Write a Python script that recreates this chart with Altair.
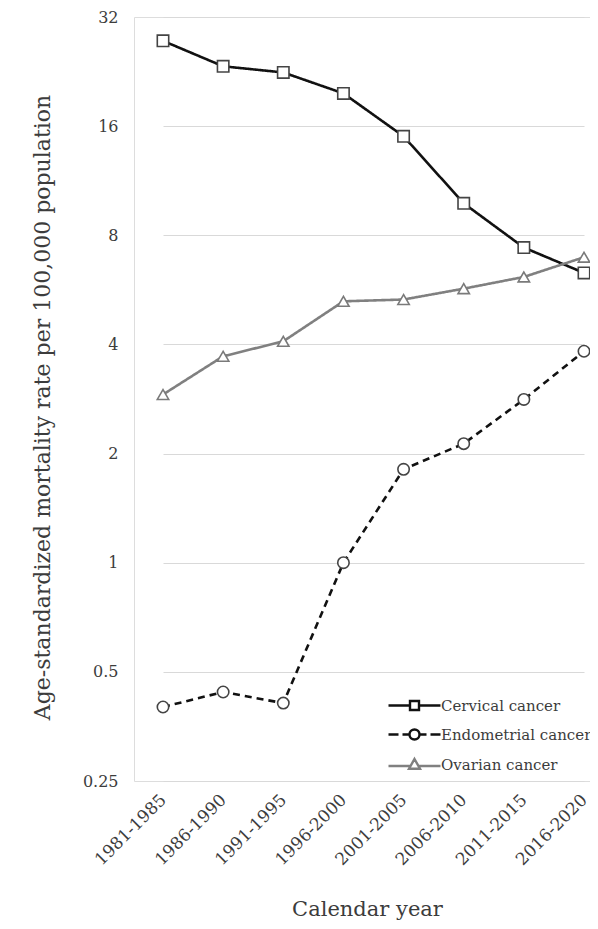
import altair as alt
import pandas as pd

periods = ["1981-1985", "1986-1990", "1991-1995", "1996-2000",
           "2001-2005", "2006-2010", "2011-2015", "2016-2020"]
cervical = [27.5, 23.4, 22.5, 19.7, 15.0, 9.8, 7.4, 6.3]
endometrial = [0.40, 0.44, 0.41, 1.0, 1.81, 2.13, 2.82, 3.83]
ovarian = [2.91, 3.71, 4.08, 5.26, 5.32, 5.7, 6.14, 6.96]
series = ["Cervical cancer", "Endometrial cancer", "Ovarian cancer"]
y_ticks = [0.25, 0.5, 1, 2, 4, 8, 16, 32]

rows = []
for name, vals in zip(series, [cervical, endometrial, ovarian]):
    for p, v in zip(periods, vals):
        rows.append({"period": p, "rate": v, "series": name})
df = pd.DataFrame(rows)

FONT = "DejaVu Serif"
TXT = "#3c3c3c"

line_colors = ["#111111", "#111111", "#808080"]
marker_strokes = ["#444444", "#444444", "#7a7a7a"]
marker_shapes = ["square", "circle", "triangle-up"]
dash_patterns = [[1, 0], [7, 5], [1, 0]]
line_widths = [2.6, 2.6, 2.0]
# legend glyphs: line + marker, in units of 10 px (symbol size 400)
legend_paths = [
    "M-2.6,0H-0.45M0.45,0H2.6M-0.45,-0.45H0.45V0.45H-0.45Z",
    "M-2.6,0H-1.6M-1.2,0H-0.5M0.5,0H1.2M1.6,0H2.6"
    "M-0.5,0A0.5,0.5 0 1,1 0.5,0A0.5,0.5 0 1,1 -0.5,0Z",
    "M-2.6,0.15H-0.4M0.4,0.15H2.6M0,-0.55L0.55,0.42H-0.55Z",
]

x_enc = alt.X(
    "period:N", sort=periods, title="Calendar year",
    scale=alt.Scale(type="point", range=[29, 450], padding=0),
    axis=alt.Axis(labelAngle=-45, labelAlign="right", labelBaseline="middle",
                  labelPadding=16, ticks=False, domain=False, grid=False,
                  labelFont=FONT, labelFontSize=17, labelColor=TXT,
                  titleFont=FONT, titleFontSize=21, titleFontWeight="normal",
                  titleColor=TXT, titleX=233, titleY=134,
                  titleBaseline="alphabetic", titleAlign="center"),
)
y_enc = alt.Y(
    "rate:Q",
    title="Age-standardized  mortality rate per 100,000 population",
    scale=alt.Scale(type="log", base=2, domain=[0.25, 32], nice=False),
    axis=alt.Axis(values=y_ticks, format="~g", ticks=False, domain=False,
                  labelPadding=16, labelFont=FONT, labelFontSize=16,
                  labelColor=TXT, gridColor="#d9d9d9", gridWidth=1.2,
                  titleFont=FONT, titleFontSize=22, titleFontWeight="normal",
                  titleColor=TXT, titleX=-92, titleY=390,
                  titleAlign="center", titleBaseline="middle", titleAngle=-90),
)

base = alt.Chart(df)

lines = base.mark_line().encode(
    x=x_enc, y=y_enc,
    color=alt.Color("series:N", scale=alt.Scale(domain=series, range=line_colors), legend=None),
    strokeDash=alt.StrokeDash("series:N", scale=alt.Scale(domain=series, range=dash_patterns), legend=None),
    strokeWidth=alt.StrokeWidth("series:N", scale=alt.Scale(domain=series, range=line_widths), legend=None),
)

points = base.mark_point(filled=True, fill="white", size=130, strokeWidth=1.6, opacity=1).encode(
    x=x_enc, y=y_enc,
    shape=alt.Shape("series:N", scale=alt.Scale(domain=series, range=marker_shapes), legend=None),
    stroke=alt.Stroke("series:N", scale=alt.Scale(domain=series, range=marker_strokes), legend=None),
)

leg = alt.Legend(title=None, orient="none", legendX=269, legendY=677,
                 labelFont=FONT, labelFontSize=15, labelColor=TXT, labelLimit=0,
                 labelOffset=15, rowPadding=8, padding=0,
                 symbolSize=400, symbolStrokeWidth=2.4, symbolOpacity=1)

legend_layer = base.mark_point(filled=False, size=400, opacity=1, strokeWidth=2.4).encode(
    x=x_enc, y=y_enc,
    shape=alt.Shape("series:N", scale=alt.Scale(domain=series, range=legend_paths), legend=leg),
    color=alt.Color("series:N", scale=alt.Scale(domain=series, range=line_colors), legend=leg),
).transform_filter("false")

chart = alt.layer(lines, points, legend_layer).resolve_scale(
    color="independent", shape="independent", stroke="independent",
    strokeDash="independent", strokeWidth="independent",
).properties(
    width=456, height=764,
    autosize=alt.AutoSizeParams(type="none"),
    padding={"left": 126, "top": 9, "right": 0, "bottom": 140},
).configure_view(stroke="#7f7f7f", strokeWidth=1.5).configure(background="white")

chart.save("out.html", embed_options={"renderer": "svg", "actions": False})
